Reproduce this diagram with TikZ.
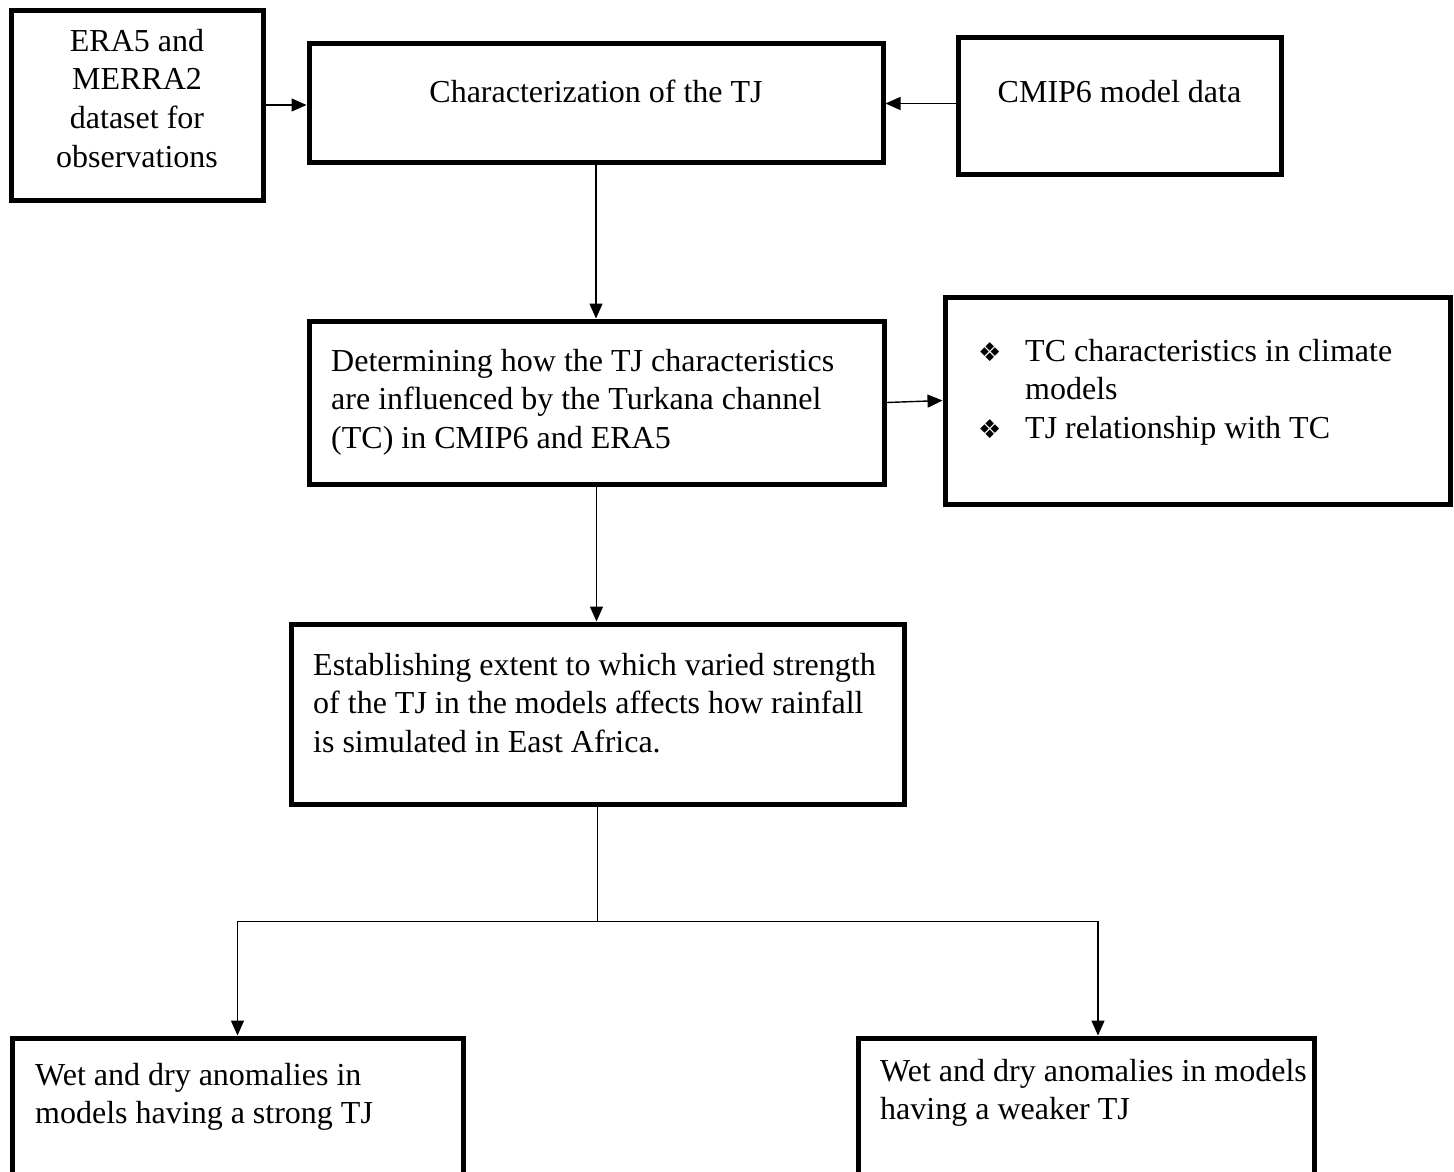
\documentclass[tikz,border=0pt]{standalone}
\usepackage{fontspec}
\setmainfont{Liberation Serif}
\newfontfamily\symfont{DejaVu Sans}
\usetikzlibrary{arrows.meta,calc}
\newcommand{\bul}{{\symfont\fontsize{26}{26}\selectfont ❖}}
\newcommand{\boxfont}{\fontsize{32}{38.8}\selectfont}

\begin{document}
\begin{tikzpicture}[x=1pt,y=-1pt,
    box/.style={draw,line width=5pt,inner sep=0pt},
    txt/.style={inner sep=0pt,font=\boxfont,execute at begin node={\spaceskip=0pt\xspaceskip=0pt\relax}},
    arr/.style={line width=1.4pt,-{Triangle[length=15pt,width=13pt]}},
    ln/.style={line width=1.4pt}]
  \useasboundingbox (0,0) rectangle (1454,1171);
  \clip (0,0) rectangle (1454,1171);

  \node[box,minimum width=252,minimum height=190](era)at(137,105){};
  \node[box,minimum width=574,minimum height=119](char)at(596,102.5){};
  \node[box,minimum width=323,minimum height=137](cmip)at(1119.5,105.5){};
  \node[box,minimum width=575,minimum height=163](tc)at(596.5,402.5){};
  \node[box,minimum width=505,minimum height=207](tcinfo)at(1197.5,400.5){};
  \node[box,minimum width=613,minimum height=180](rain)at(597.5,714){};
  \node[box,minimum width=451,minimum height=200](strong)at(237.5,1138){};
  \node[box,minimum width=456,minimum height=200](weak)at(1086,1138){};

  \node[txt,text width=240,anchor=base](era-t)at(137,51){\centering ERA5 and\\MERRA2\\dataset for\\observations\par};
  \node[txt,anchor=base](char-t)at(596,102){Characterization of the TJ};
  \node[txt,anchor=base](cmip-t)at(1119.5,102){CMIP6 model data};
  \node[txt,text width=560,align=left,anchor=base west](tc-t)at(331,371){Determining how the TJ characteristics\\are influenced by the Turkana channel\\(TC) in CMIP6 and ERA5};
  \node[txt,text width=470,align=left,anchor=base west](tcinfo-t)at(978,361){\makebox[47pt][l]{\bul}TC characteristics in climate\\\hspace*{47pt}models\\\makebox[47pt][l]{\bul}TJ relationship with TC};
  \node[txt,text width=600,align=left,anchor=base west](rain-t)at(313,675){Establishing extent to which varied strength\\of the TJ in the models affects how rainfall\\is simulated in East Africa.};
  \node[txt,text width=470,align=left,anchor=base west](strong-t)at(35,1085){Wet and dry anomalies in\\models having a strong TJ};
  \node[txt,text width=470,align=left,anchor=base west](weak-t)at(880,1081){Wet and dry anomalies in models\\having a weaker TJ};

  \draw[arr](era.east)--(era.east-|char.west);
  \draw[arr]([yshift=2pt]cmip.west)--([yshift=2pt]cmip.west-|char.east);
  \draw[arr](char.south)--(char.south|-tc.north);
  \draw[arr](tc.east)--(tcinfo.west);
  \draw[arr](tc.south)--(tc.south|-rain.north);
  \draw[ln](rain.south)--++(0,115)coordinate(split);
  \draw[arr](split)-|(strong.north);
  \draw[arr](split)-|([xshift=12pt]weak.north);
\end{tikzpicture}
\end{document}
